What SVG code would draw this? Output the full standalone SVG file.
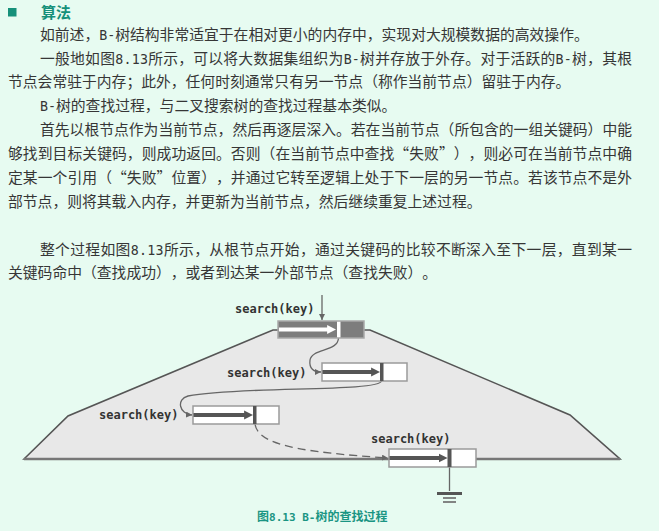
<svg xmlns="http://www.w3.org/2000/svg" width="659" height="531" viewBox="0 0 659 531">
<defs>
<style>
text{text-spacing-trim:space-all}
.body{font-family:"Noto Sans CJK SC","Noto Sans CJK TC",sans-serif;font-size:14.8px;fill:#363636}
.m{font-family:"DejaVu Sans Mono","Liberation Mono",monospace;font-size:13.3px}
.head{font-family:"Noto Sans CJK SC",sans-serif;font-size:15px;font-weight:bold;fill:#16907a}
.cap{font-family:"Noto Sans CJK SC",sans-serif;font-size:12px;font-weight:bold;fill:#1a9583}
.cap .m{font-size:11px}
.lbl{font-family:"DejaVu Sans Mono","Liberation Mono",monospace;font-size:12px;font-weight:bold;fill:#333}
.box{fill:#fff;stroke:#9a9a9a;stroke-width:1.5}
.rootbox{fill:#7d7d7d;stroke:#a8a8a8;stroke-width:1.5}
.div{fill:#555}
.inarrow{stroke:#555;stroke-width:4;fill:none}
.conn{stroke:#666;stroke-width:1.3;fill:none}
.dash{stroke-dasharray:8 5}
</style>
<marker id="ahDark" viewBox="0 0 10 10" markerUnits="userSpaceOnUse" markerWidth="9" markerHeight="10" refX="1" refY="5" orient="auto"><path d="M0,0 L10,5 L0,10 z" fill="#555"/></marker>
<marker id="ahWhite" viewBox="0 0 10 10" markerUnits="userSpaceOnUse" markerWidth="9" markerHeight="10" refX="1" refY="5" orient="auto"><path d="M0,0 L10,5 L0,10 z" fill="#fff"/></marker>
<marker id="ahSmall" viewBox="0 0 10 10" markerUnits="userSpaceOnUse" markerWidth="6" markerHeight="6" refX="10" refY="5" orient="auto"><path d="M0,0 L10,5 L0,10 z" fill="#666"/></marker>
</defs>
<rect x="0" y="0" width="659" height="531" fill="#e7fbf1"/>

<g id="text">
<rect x="8" y="8" width="8.5" height="8.5" fill="#16907a"/>
<text class="head" x="41" y="18">算法</text>
<text class="body" x="40" y="39.5">如前述，<tspan class="m">B-</tspan>树结构非常适宜于在相对更小的内存中，实现对大规模数据的高效操作。</text>
<text class="body" x="40" y="63.5" textLength="592" lengthAdjust="spacing">一般地如图<tspan class="m">8.13</tspan>所示，可以将大数据集组织为<tspan class="m">B-</tspan>树并存放于外存。对于活跃的<tspan class="m">B-</tspan>树，其根</text>
<text class="body" x="8" y="87.3">节点会常驻于内存；此外，任何时刻通常只有另一节点（称作当前节点）留驻于内存。</text>
<text class="body" x="40" y="111"><tspan class="m">B-</tspan>树的查找过程，与二叉搜索树的查找过程基本类似。</text>
<text class="body" x="40" y="135" textLength="592" lengthAdjust="spacing">首先以根节点作为当前节点，然后再逐层深入。若在当前节点（所包含的一组关键码）中能</text>
<text class="body" x="8" y="159" textLength="624" lengthAdjust="spacing">够找到目标关键码，则成功返回。否则（在当前节点中查找“失败”），则必可在当前节点中确</text>
<text class="body" x="8" y="183" textLength="624" lengthAdjust="spacing">定某一个引用（“失败”位置），并通过它转至逻辑上处于下一层的另一节点。若该节点不是外</text>
<text class="body" x="8" y="206.5">部节点，则将其载入内存，并更新为当前节点，然后继续重复上述过程。</text>
<text class="body" x="40" y="254.5" textLength="592" lengthAdjust="spacing">整个过程如图<tspan class="m">8.13</tspan>所示，从根节点开始，通过关键码的比较不断深入至下一层，直到某一</text>
<text class="body" x="8" y="278">关键码命中（查找成功），或者到达某一外部节点（查找失败）。</text>
</g>

<g id="tree-outline">
<polygon points="24,459 68,416 273,330 370,330 570,415 620,459" fill="#e8e8e8" stroke="#555" stroke-width="1.6" stroke-linejoin="miter"/>
<line x1="24" y1="459" x2="620" y2="459" stroke="#777" stroke-width="2.5"/>
</g>

<g id="connectors">
<path class="conn" d="M322,295 L322,320" marker-end="url(#ahSmall)"/>
<path class="conn" d="M338.5,338 C338,352 312,348 310,360 C309,368 313,372 321,372" marker-end="url(#ahSmall)"/>
<path class="conn" d="M381.5,381 C380,392 240,386 188,396 C176,399 179,414 192,415" marker-end="url(#ahSmall)"/>
<path class="conn dash" d="M255,424 C258,445 300,452 388,458" marker-end="url(#ahSmall)"/>
<path class="conn" d="M449.5,467 L449.5,491"/>
</g>

<g id="node-root">
<text class="lbl" x="235" y="313">search(key)</text>
<rect class="rootbox" x="278" y="321" width="86" height="17"/>
<rect x="337" y="321.7" width="3.5" height="15.6" fill="#fff"/>
<line x1="279" y1="329.5" x2="328" y2="329.5" stroke="#fff" stroke-width="4" marker-end="url(#ahWhite)"/>
</g>

<g id="node-2">
<text class="lbl" x="227" y="377">search(key)</text>
<rect class="box" x="322" y="363" width="85" height="18"/>
<rect class="div" x="380" y="363" width="3.5" height="18"/>
<line class="inarrow" x1="322.5" y1="372" x2="372" y2="372" marker-end="url(#ahDark)"/>
</g>

<g id="node-3">
<text class="lbl" x="99" y="419">search(key)</text>
<rect class="box" x="193" y="406" width="86" height="18"/>
<rect class="div" x="253" y="406" width="3.5" height="18"/>
<line class="inarrow" x1="193.5" y1="415" x2="245" y2="415" marker-end="url(#ahDark)"/>
</g>

<g id="node-4">
<text class="lbl" x="371" y="443">search(key)</text>
<rect class="box" x="389" y="449" width="87" height="18"/>
<rect class="div" x="447.5" y="449" width="4" height="18"/>
<line class="inarrow" x1="389.5" y1="458" x2="439.5" y2="458" marker-end="url(#ahDark)"/>
</g>

<g id="ground">
<line x1="437" y1="493.5" x2="462" y2="493.5" stroke="#555" stroke-width="3"/>
<line x1="443" y1="498" x2="456" y2="498" stroke="#777" stroke-width="1.8"/>
<line x1="443" y1="502" x2="456" y2="502" stroke="#777" stroke-width="1.8"/>
</g>

<text class="cap" x="257" y="521">图<tspan class="m">8.13 B-</tspan>树的查找过程</text>
</svg>
